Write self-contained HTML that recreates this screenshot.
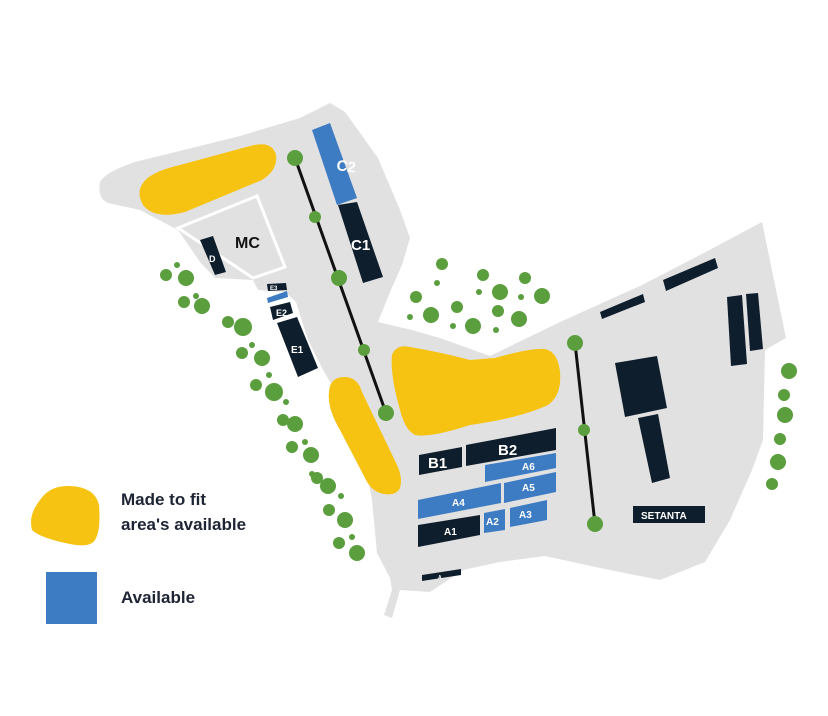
<!DOCTYPE html>
<html><head><meta charset="utf-8"><style>
html,body{margin:0;padding:0;background:#fff;}
svg{display:block;}
text{font-family:"Liberation Sans",sans-serif;font-weight:bold;}
</style></head><body>
<svg width="828" height="716" viewBox="0 0 828 716" xmlns="http://www.w3.org/2000/svg">
<path fill="#e1e1e1" d="M100,182 Q105,172 135,162 L240,136 L300,118 L330,103 L345,112 L378,158 L400,210 L410,238 L402,265 L390,292 L378,322 L412,330 L440,338 L490,356 L560,322 L640,286 L700,255 L762,222 L786,338 L765,350 L763,440 L752,470 L730,520 L705,562 L660,580 L600,568 L545,556 L500,562 L463,570 L430,592 L400,590 L392,618 L384,615 L392,590 L390,578 L377,553 L372,500 L362,445 L345,408 L322,368 L308,340 L296,302 L285,292 L258,290 L253,280 L215,278 L200,262 L178,230 L140,210 L108,203 Q97,198 100,182 Z"/>
<polygon points="178,228 257,196 285,267 253,278" fill="none" stroke="#fff" stroke-width="3"/>
<path fill="#f7c312" d="M143,183 Q150,172 180,165 L250,146 Q272,140 276,155 Q278,170 262,180 L185,212 Q155,220 143,205 Q136,192 143,183 Z"/>
<path fill="#f7c312" d="M392,355 Q396,344 410,347 Q440,352 470,360 L495,358 Q530,348 545,349 Q558,352 560,372 Q562,395 548,405 Q520,418 470,425 Q430,438 415,435 Q405,430 400,410 Q390,375 392,355 Z"/>
<path fill="#f7c312" d="M329,392 Q330,376 346,377 Q358,378 362,392 L397,465 Q403,478 400,488 Q396,496 384,494 Q372,492 366,480 L340,430 Q327,408 329,392 Z"/>
<line x1="295" y1="158" x2="386" y2="413" stroke="#111" stroke-width="3"/>
<line x1="575" y1="343" x2="595" y2="524" stroke="#111" stroke-width="3"/>
<g fill="#5b9e3e">
<circle cx="295" cy="158" r="8"/><circle cx="315" cy="217" r="6"/><circle cx="339" cy="278" r="8"/><circle cx="364" cy="350" r="6"/><circle cx="386" cy="413" r="8"/>
<circle cx="575" cy="343" r="8"/><circle cx="584" cy="430" r="6"/><circle cx="595" cy="524" r="8"/>
<circle cx="166" cy="275" r="6"/><circle cx="177" cy="265" r="3"/><circle cx="186" cy="278" r="8"/><circle cx="184" cy="302" r="6"/><circle cx="196" cy="296" r="3"/><circle cx="202" cy="306" r="8"/><circle cx="228" cy="322" r="6"/><circle cx="243" cy="327" r="9"/><circle cx="242" cy="353" r="6"/><circle cx="252" cy="345" r="3"/><circle cx="262" cy="358" r="8"/><circle cx="256" cy="385" r="6"/><circle cx="269" cy="375" r="3"/><circle cx="274" cy="392" r="9"/><circle cx="286" cy="402" r="3"/><circle cx="283" cy="420" r="6"/><circle cx="295" cy="424" r="8"/><circle cx="292" cy="447" r="6"/><circle cx="305" cy="442" r="3"/><circle cx="311" cy="455" r="8"/><circle cx="312" cy="474" r="3"/><circle cx="317" cy="478" r="6"/><circle cx="328" cy="486" r="8"/><circle cx="341" cy="496" r="3"/><circle cx="329" cy="510" r="6"/><circle cx="345" cy="520" r="8"/><circle cx="339" cy="543" r="6"/><circle cx="352" cy="537" r="3"/><circle cx="357" cy="553" r="8"/>
<circle cx="442" cy="264" r="6"/><circle cx="437" cy="283" r="3"/><circle cx="416" cy="297" r="6"/><circle cx="431" cy="315" r="8"/><circle cx="410" cy="317" r="3"/><circle cx="457" cy="307" r="6"/><circle cx="473" cy="326" r="8"/><circle cx="453" cy="326" r="3"/><circle cx="483" cy="275" r="6"/><circle cx="479" cy="292" r="3"/><circle cx="500" cy="292" r="8"/><circle cx="498" cy="311" r="6"/><circle cx="519" cy="319" r="8"/><circle cx="496" cy="330" r="3"/><circle cx="525" cy="278" r="6"/><circle cx="521" cy="297" r="3"/><circle cx="542" cy="296" r="8"/>
<circle cx="789" cy="371" r="8"/><circle cx="784" cy="395" r="6"/><circle cx="785" cy="415" r="8"/><circle cx="780" cy="439" r="6"/><circle cx="778" cy="462" r="8"/><circle cx="772" cy="484" r="6"/>
</g>
<g fill="#0f1e2c">
<polygon points="338,205 357,202 383,277 363,283"/>
<polygon points="200,240 213,236 226,272 215,275"/>
<polygon points="267,284 286,283 287,290 268,291"/>
<polygon points="270,307 290,302 293,313 273,320"/>
<polygon points="277,323 297,317 318,368 298,377"/>
<polygon points="419,455 462,447 462,467 419,475"/>
<polygon points="466,445 556,428 556,450 466,466"/>
<polygon points="418,525 480,515 480,535 418,547"/>
<polygon points="422,575 461,569 461,575 422,581"/>
<polygon points="600,312 643,294 645,302 602,319"/>
<polygon points="663,280 715,258 718,268 666,291"/>
<polygon points="727,297 742,295 747,364 731,366"/>
<polygon points="746,294 758,293 763,349 750,351"/>
<polygon points="615,363 657,356 667,408 625,417"/>
<polygon points="638,418 658,414 670,478 652,483"/>
<rect x="633" y="506" width="72" height="17"/>
</g>
<g fill="#3d7bc3">
<polygon points="312,130 330,123 357,198 337,205"/>
<polygon points="267,298 287,291 288,297 268,303"/>
<polygon points="485,465 556,453 556,468 485,482"/>
<polygon points="504,483 556,472 556,492 504,503"/>
<polygon points="418,500 501,483 501,503 418,519"/>
<polygon points="510,508 547,500 547,520 510,527"/>
<polygon points="484,513 505,509 505,530 484,533"/>
</g>
<g fill="#fff">
<text x="336" y="170" font-size="15" transform="rotate(8 336 170)">C2</text>
<text x="351" y="250" font-size="15">C1</text>
<text x="209" y="262" font-size="9">D</text>
<text x="270" y="290" font-size="6">E3</text>
<text x="276" y="316" font-size="9">E2</text>
<text x="291" y="353" font-size="10">E1</text>
<text x="428" y="468" font-size="15">B1</text>
<text x="498" y="455" font-size="15">B2</text>
<text x="522" y="470" font-size="10">A6</text>
<text x="522" y="491" font-size="10">A5</text>
<text x="452" y="506" font-size="10">A4</text>
<text x="519" y="518" font-size="10">A3</text>
<text x="486" y="525" font-size="10">A2</text>
<text x="444" y="535" font-size="10">A1</text>
<text x="438" y="579" font-size="5">A</text>
<text x="641" y="519" font-size="10">SETANTA</text>
</g>
<text x="235" y="248" font-size="16" fill="#111">MC</text>
<path fill="#f7c312" d="M40,500 Q50,485 70,486 Q95,487 99,505 Q101,530 95,540 Q90,548 70,544 Q40,538 32,530 Q28,515 40,500 Z"/>
<rect x="46" y="572" width="51" height="52" fill="#3d7bc3"/>
<g fill="#1d2434" font-size="17">
<text x="121" y="505">Made to fit</text>
<text x="121" y="530">area's available</text>
<text x="121" y="603">Available</text>
</g>
</svg>
</body></html>
